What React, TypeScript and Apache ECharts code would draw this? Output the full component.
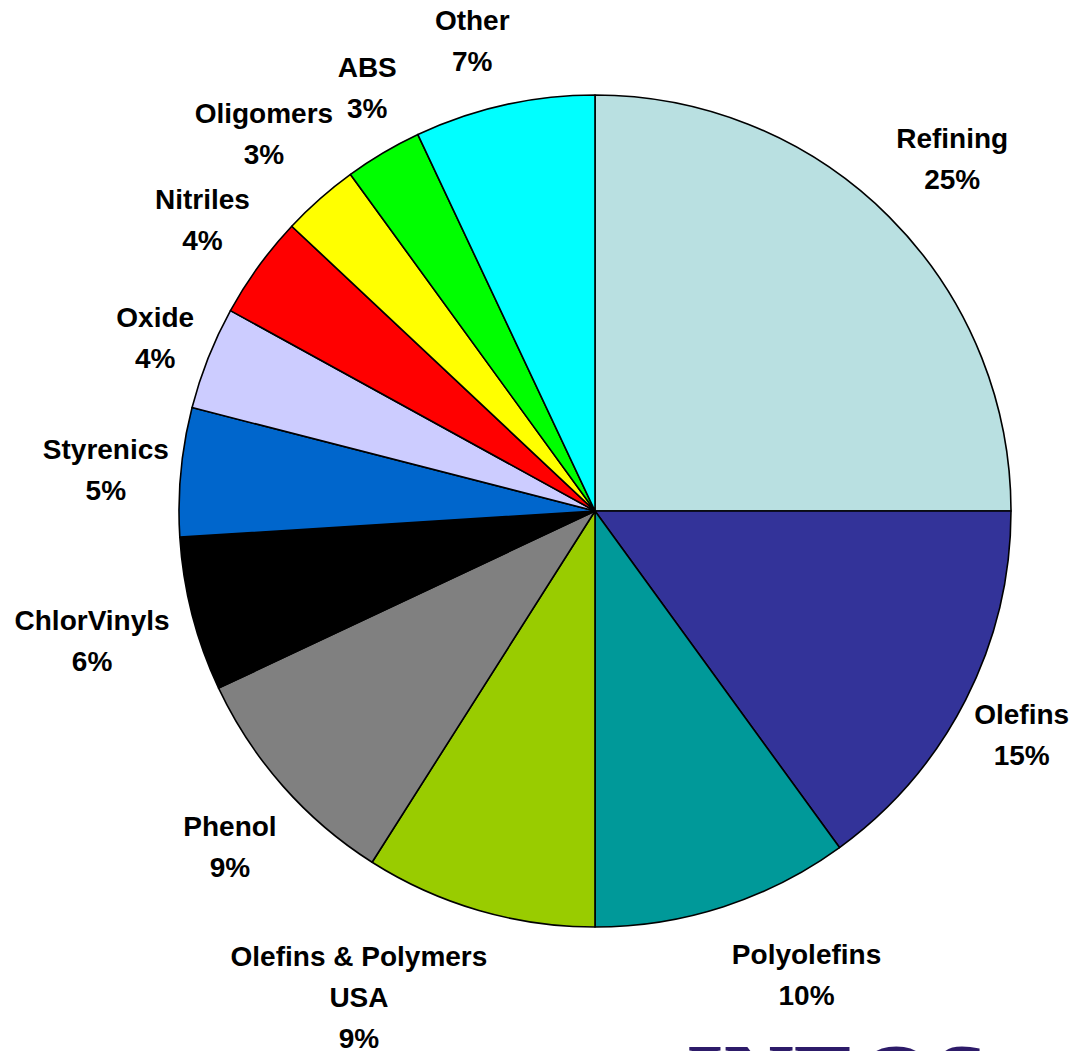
import React, { useEffect, useRef } from "react";
import * as echarts from "echarts";

const categories = [
  "Refining",
  "Olefins",
  "Polyolefins",
  "Olefins & Polymers\nUSA",
  "Phenol",
  "ChlorVinyls",
  "Styrenics",
  "Oxide",
  "Nitriles",
  "Oligomers",
  "ABS",
  "Other",
];
const shares = [25, 15, 10, 9, 9, 6, 5, 4, 4, 3, 3, 7];
const colors = [
  "#B9E0E1",
  "#333399",
  "#009999",
  "#99CC00",
  "#808080",
  "#000000",
  "#0066CC",
  "#CCCCFF",
  "#FF0000",
  "#FFFF00",
  "#00FF00",
  "#00FFFF",
];
// offset of each label's centre from the point where its slice's mid-angle meets the rim (layout)
const labelOffsets: [number, number][] = [
  [63, -58],
  [56, 35],
  [83, 68],
  [-120, 87],
  [-53, 61],
  [-100, 27],
  [-75, -2],
  [-53, -20],
  [-56, -46],
  [-56, -65],
  [-16, -65],
  [-32, -64],
];

const CX = 595;
const CY = 511;
const R = 416;

export default function App() {
  const ref = useRef<HTMLDivElement>(null);
  useEffect(() => {
    if (!ref.current) return;
    const chart = echarts.init(ref.current, null, { renderer: "svg" });
    const total = shares.reduce((a, b) => a + b, 0);
    const mids: number[] = [];
    let cum = 0;
    shares.forEach((v) => {
      mids.push(((cum + v / 2) / total) * Math.PI * 2);
      cum += v;
    });
    chart.setOption({
      animation: false,
      backgroundColor: "#ffffff",
      series: [
        {
          type: "pie",
          center: [CX, CY],
          radius: R,
          startAngle: 90,
          clockwise: true,
          avoidLabelOverlap: false,
          itemStyle: { borderColor: "#000000", borderWidth: 1.6 },
          emphasis: { disabled: true },
          label: {
            show: true,
            position: "outside",
            formatter: "{b}\n{c}%",
            fontFamily: '"Liberation Sans", Arial, sans-serif',
            fontWeight: "bold",
            fontSize: 28,
            lineHeight: 41,
            color: "#000000",
            align: "center",
          },
          labelLine: { show: false },
          labelLayout: (params: any) => {
            const i = params.dataIndex;
            const a = mids[i];
            const [ox, oy] = labelOffsets[i];
            return {
              x: CX + R * Math.sin(a) + ox,
              y: CY - R * Math.cos(a) + oy,
              align: "center",
              verticalAlign: "middle",
            };
          },
          data: categories.map((name, i) => ({
            name,
            value: shares[i],
            itemStyle: { color: colors[i] },
          })),
        },
      ],
      graphic: [
        {
          type: "text",
          left: 686,
          top: 1030,
          silent: true,
          style: {
            text: "INEOS",
            font: 'bold 97px "Liberation Serif", serif',
            fill: "#2D1B69",
          },
        },
      ],
    });
    return () => chart.dispose();
  }, []);
  return (
    <div
      ref={ref}
      style={{ position: "fixed", left: 0, top: 0, width: 1079, height: 1051 }}
    />
  );
}
